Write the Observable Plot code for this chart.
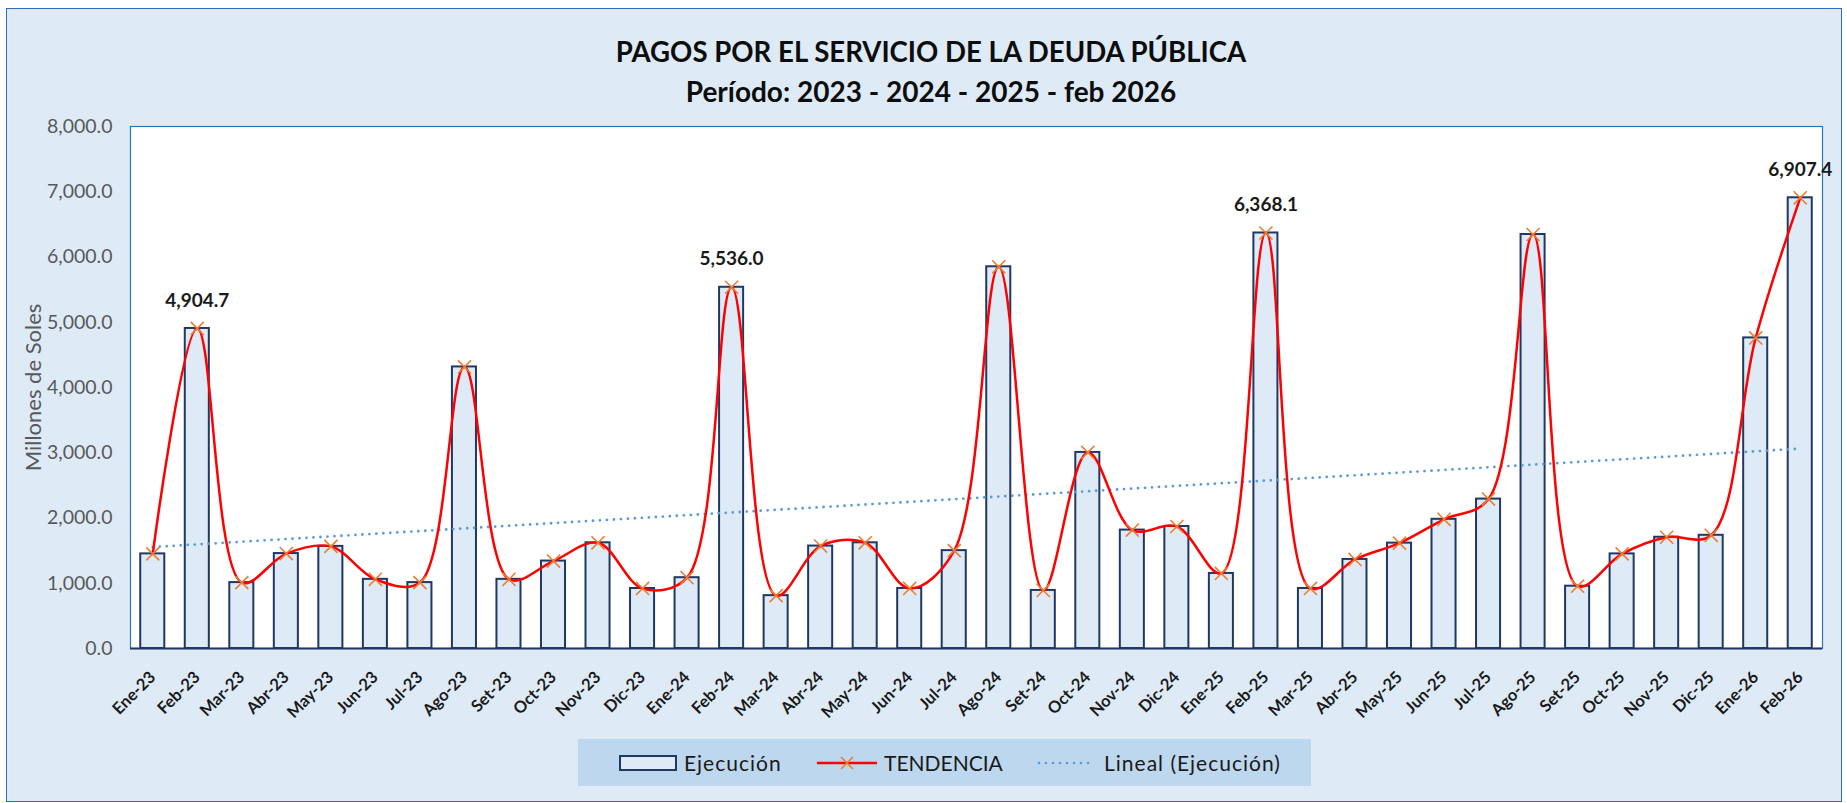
<!DOCTYPE html>
<html><head><meta charset="utf-8">
<script src="https://cdn.jsdelivr.net/npm/d3@7"></script>
<script src="https://cdn.jsdelivr.net/npm/@observablehq/plot@0.6"></script>
<style>
body{margin:0;background:#fff;font-family:Lato,"Noto Sans",sans-serif;}
#wrap{position:relative;width:1847px;height:803px;overflow:hidden;}
#frame{position:absolute;left:6px;top:8px;width:1836px;height:794px;background:#DEEBF7;border:1.5px solid #2F6FBA;box-sizing:border-box;}
.ttl{position:absolute;left:0;width:1862px;text-align:center;font-weight:bold;color:#0d0d0d;line-height:28px;white-space:nowrap;}
#chart{position:absolute;left:0;top:100px;}
#legend{position:absolute;left:578px;top:739px;width:733px;height:47px;background:#BDD7EE;}
.li{position:absolute;top:0;height:47px;display:flex;align-items:center;font-size:21px;color:#1a1a1a;white-space:nowrap;}
.li svg{margin-right:7px;}
</style>
</head><body>
<div id="wrap">
  <div id="frame"></div>
  <div class="ttl" id="t1" style="top:38px;font-size:27.6px">PAGOS POR EL SERVICIO DE LA DEUDA PÚBLICA</div>
  <div class="ttl" id="t2" style="top:77px;font-size:28px">Período: 2023 - 2024 - 2025 - feb 2026</div>
  <div id="chart"></div>
  <div id="legend"></div>
</div>
<script>
const months = ["Ene-23","Feb-23","Mar-23","Abr-23","May-23","Jun-23","Jul-23","Ago-23","Set-23","Oct-23","Nov-23","Dic-23",
"Ene-24","Feb-24","Mar-24","Abr-24","May-24","Jun-24","Jul-24","Ago-24","Set-24","Oct-24","Nov-24","Dic-24",
"Ene-25","Feb-25","Mar-25","Abr-25","May-25","Jun-25","Jul-25","Ago-25","Set-25","Oct-25","Nov-25","Dic-25",
"Ene-26","Feb-26"];
const ejecucion = [1450,4904.7,1010,1455,1565,1060,1010,4315,1060,1340,1620,920,
1085,5536.0,810,1570,1620,920,1500,5850,890,3005,1815,1870,
1150,6368.1,920,1365,1615,1980,2290,6345,955,1450,1705,1735,
4760,6907.4];
const labeledMonths = ["Feb-23","Feb-24","Feb-25","Feb-26"];
const yTicks = [0,1000,2000,3000,4000,5000,6000,7000,8000];
const legendLabels = ["Ejecución","TENDENCIA","Lineal (Ejecución)"];

const data = months.map((m,i)=>({m, v: ejecucion[i], i}));
// least-squares linear trend (Excel "Lineal")
const n = data.length;
const mi = d3.mean(data, d=>d.i), mv = d3.mean(data, d=>d.v);
const b = d3.sum(data, d=>(d.i-mi)*(d.v-mv)) / d3.sum(data, d=>(d.i-mi)**2);
const a = mv - b*mi;
const trend = [{m: months[0], v: a}, {m: months[n-1], v: a + b*(n-1)}];
const fmt = d3.format(",.1f");

const W = 1847, ML = 130, MR = 25;
const step = (W - ML - MR) / months.length;
const barInset = step * 0.23;

const chart = Plot.plot({
  width: W, height: 630,
  marginLeft: ML, marginRight: MR, marginTop: 26, marginBottom: 82,
  style: {background: "transparent", fontFamily: "Lato, sans-serif", overflow: "visible"},
  x: {domain: months, padding: 0, round: false, label: null},
  y: {domain: [0, 8000], label: null},
  marks: [
    Plot.frame({fill: "white", stroke: "#2E75B6", strokeWidth: 1.2}),
    Plot.barY(data, {x: "m", y: "v", fill: "#DEEBF7", stroke: "#203864", strokeWidth: 2, insetLeft: barInset, insetRight: barInset}),
    Plot.ruleY([0], {stroke: "#203864", strokeWidth: 2}),
    Plot.line(trend, {x: "m", y: "v", stroke: "#5B9BD5", strokeWidth: 2.8, strokeDasharray: "0 7", strokeLinecap: "round"}),
    Plot.line(data, {x: "m", y: "v", stroke: "#FF0000", strokeWidth: 2.5, curve: "catmull-rom"}),
    Plot.dot(data, {x: "m", y: "v", symbol: "times", r: 6, stroke: "#ED7D31", strokeWidth: 1.6}),
    Plot.text(data.filter(d=>labeledMonths.includes(d.m)), {x: "m", y: "v", text: d=>fmt(d.v), dy: -28, fontWeight: "bold", fontSize: 19, fill: "#1a1a1a"}),
    Plot.axisY({ticks: yTicks, tickSize: 0, tickPadding: 18, fontSize: 19.5, fill: "#595959", label: null, tickFormat: fmt}),
    Plot.axisX({tickSize: 0, tickRotate: -45, tickPadding: 26, fontSize: 16.5, fontWeight: "bold", fill: "#1a1a1a", label: null}),
    Plot.text(["Millones de Soles"], {frameAnchor: "left", textAnchor: "middle", dx: -97, rotate: -90, fontSize: 22, fill: "#595959"})
  ]
});
document.getElementById("chart").appendChild(chart);

// legend
const lg = document.getElementById("legend");
const items = [
  {x: 41, ls: 1, svg: '<svg width="58" height="16"><rect x="1" y="1" width="56" height="14" fill="#DEEBF7" stroke="#203864" stroke-width="2"/></svg>'},
  {x: 239, ls: 0, svg: '<svg width="60" height="16"><line x1="0" y1="8" x2="60" y2="8" stroke="#FF0000" stroke-width="2.5"/><path d="M24,2L36,14M36,2L24,14" stroke="#ED7D31" stroke-width="1.6"/></svg>'},
  {x: 459, ls: 1, svg: '<svg width="60" height="16"><line x1="2" y1="8" x2="58" y2="8" stroke="#5B9BD5" stroke-width="2.6" stroke-dasharray="0 7" stroke-linecap="round"/></svg>'}
];
items.forEach((it,k)=>{
  const d = document.createElement("div");
  d.className = "li"; d.style.left = it.x + "px";
  d.innerHTML = it.svg + '<span style="letter-spacing:' + it.ls + 'px">' + legendLabels[k] + "</span>";
  lg.appendChild(d);
});
</script>
</body></html>
